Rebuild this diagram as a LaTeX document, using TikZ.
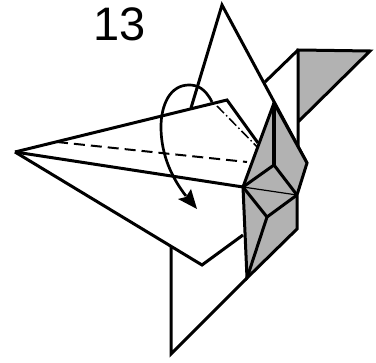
\documentclass[tikz,border=0pt]{standalone}
\usepackage{fontspec}
\setmainfont{Liberation Sans}
\tikzset{
  px/.style={x=1pt,y=-1pt},
  fold/.style={line width=3pt,line join=miter,miter limit=3},
  thinfold/.style={line width=1.2pt},
  valley/.style={line width=2pt,dash pattern=on 11pt off 6pt},
  mountain/.style={line width=1.5pt,dash pattern=on 10pt off 3pt on 1.5pt off 3pt},
  paper/.style={fill=papergrey,draw=black,fold},
  motion/.style={line width=2.7pt}
}
\definecolor{papergrey}{gray}{0.7}
\begin{document}
\begin{tikzpicture}[px]
\useasboundingbox (0,0) rectangle (376,363);
\node[font=\fontsize{47}{47}\selectfont,anchor=center] (num) at (120,24) {13};
\coordinate (apex) at (222,5);
\coordinate (flapL) at (191,108);
\coordinate (backA) at (265,82);
\coordinate (backB) at (298,50);
\coordinate (backC) at (298,146);
\coordinate (triR) at (370,51);
\coordinate (triB) at (298,122);
\coordinate (tip) at (15,152);
\coordinate (crease) at (227,100);
\coordinate (creaseEnd) at (258,143);
\coordinate (low) at (202,265);
\coordinate (lowR) at (243,235);
\coordinate (legTop) at (171,247);
\coordinate (legBot) at (171,354);
\coordinate (gT) at (274,103);
\coordinate (gR) at (307,163);
\coordinate (gM) at (297,195);
\coordinate (gS) at (297,229);
\coordinate (gB) at (247,278);
\coordinate (gL) at (243,187);
\coordinate (gC) at (274,165);
\coordinate (gI) at (267,217);
\fill[papergrey] (backB) -- (triR) -- (triB) -- cycle;
\draw[fold] (triB) -- (triR) -- (backB) -- (backC);
\draw[fold] (backA) -- (backB);
\draw[fold] (flapL) -- (apex) -- (gR);
\draw[fold] (legTop) -- (legBot) -- (gB);
\draw[fold] (tip) -- (crease) -- (creaseEnd);
\draw[fold] (tip) -- (low) -- (lowR);
\draw[fold] (tip) -- (gL);
\draw[valley] (57,142) -- (247,162);
\draw[mountain] (217,106) -- (270,160);
\draw[paper] (gT) -- (gR) -- (gM) -- (gS) -- (gB) -- (gL) -- cycle;
\draw[line width=4pt] (gT) -- (gC);
\draw[fold] (gL) -- (gC) -- (gM);
\draw[thinfold] (gL) -- (gM);
\draw[fold] (gL) -- (gI) -- (gM);
\draw[fold] (gI) -- (gB);
\coordinate (arrS) at (212,102);
\coordinate (arrE) at (186,196);
\draw[motion] (arrS) .. controls (205,88) and (197,85) .. (189,85)
  .. controls (170,85) and (161,105) .. (161,127)
  .. controls (161,155) and (172,178) .. (arrE);
\fill (197,209) -- (178,199) -- (186,197) -- (191,189) -- cycle;
\end{tikzpicture}
\end{document}
